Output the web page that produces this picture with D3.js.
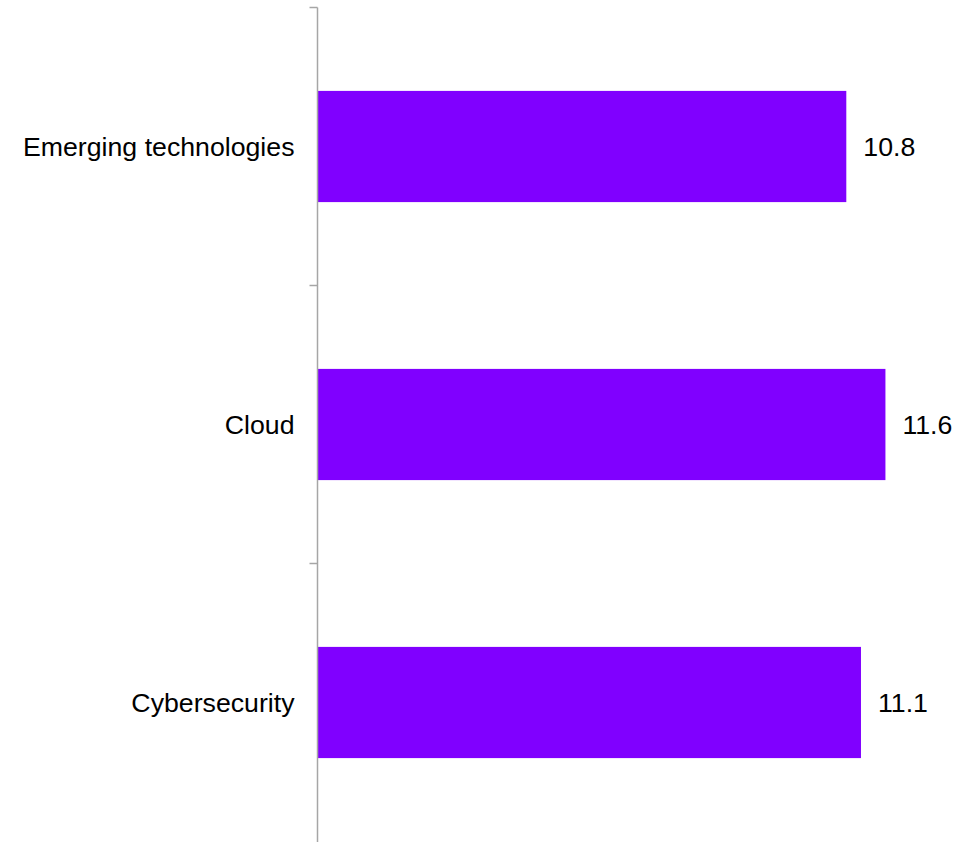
<!DOCTYPE html>
<html>
<head>
<meta charset="utf-8">
<script src="https://cdn.jsdelivr.net/npm/d3@7"></script>
<style>
  html, body { margin: 0; padding: 0; background: #ffffff; }
  svg { display: block; font-family: "Liberation Sans", Arial, sans-serif; }
</style>
</head>
<body>
<svg id="chart" width="979" height="842"></svg>
<script>
// Spending growth by category (%)
const categories = ["Emerging technologies", "Cloud", "Cybersecurity"];
const values = [10.8, 11.6, 11.1];
const xDomain = [0, 12];

const svg = d3.select("#chart");
const axisX = 317.5;
const fontSize = 26.7;

const y = d3.scaleBand()
  .domain(categories)
  .range([7.5, 841.5])
  .paddingInner(0.6)
  .paddingOuter(0.3);

const x = d3.scaleLinear()
  .domain(xDomain)
  .range([axisX + 0.5, axisX + 0.5 + 587]);

// bars
svg.append("g")
  .selectAll("rect")
  .data(categories)
  .join("rect")
  .attr("x", x(0))
  .attr("y", d => y(d))
  .attr("width", (d, i) => x(values[i]) - x(0))
  .attr("height", y.bandwidth())
  .attr("fill", "#8000ff");

// category axis with ticks between categories
const axisG = svg.append("g").attr("stroke", "#a6a6a6").attr("stroke-width", 1.5);
axisG.append("line")
  .attr("x1", axisX).attr("x2", axisX)
  .attr("y1", y.range()[0]).attr("y2", y.range()[1] + 5);
const step = y.step();
const boundaries = categories.map(c => y(c) - (step - y.bandwidth()) / 2);
axisG.selectAll("line.tick")
  .data(boundaries)
  .join("line")
  .attr("class", "tick")
  .attr("x1", axisX - 8).attr("x2", axisX)
  .attr("y1", d => d).attr("y2", d => d);

// category labels
svg.append("g")
  .selectAll("text")
  .data(categories)
  .join("text")
  .attr("x", axisX - 23)
  .attr("y", d => y(d) + y.bandwidth() / 2)
  .attr("dy", "0.35em")
  .attr("text-anchor", "end")
  .attr("font-size", fontSize)
  .attr("fill", "#000")
  .text(d => d);

// value labels
svg.append("g")
  .selectAll("text")
  .data(categories)
  .join("text")
  .attr("x", (d, i) => x(values[i]) + 17)
  .attr("y", d => y(d) + y.bandwidth() / 2)
  .attr("dy", "0.35em")
  .attr("font-size", fontSize)
  .attr("fill", "#000")
  .text((d, i) => values[i].toFixed(1));
</script>
</body>
</html>
